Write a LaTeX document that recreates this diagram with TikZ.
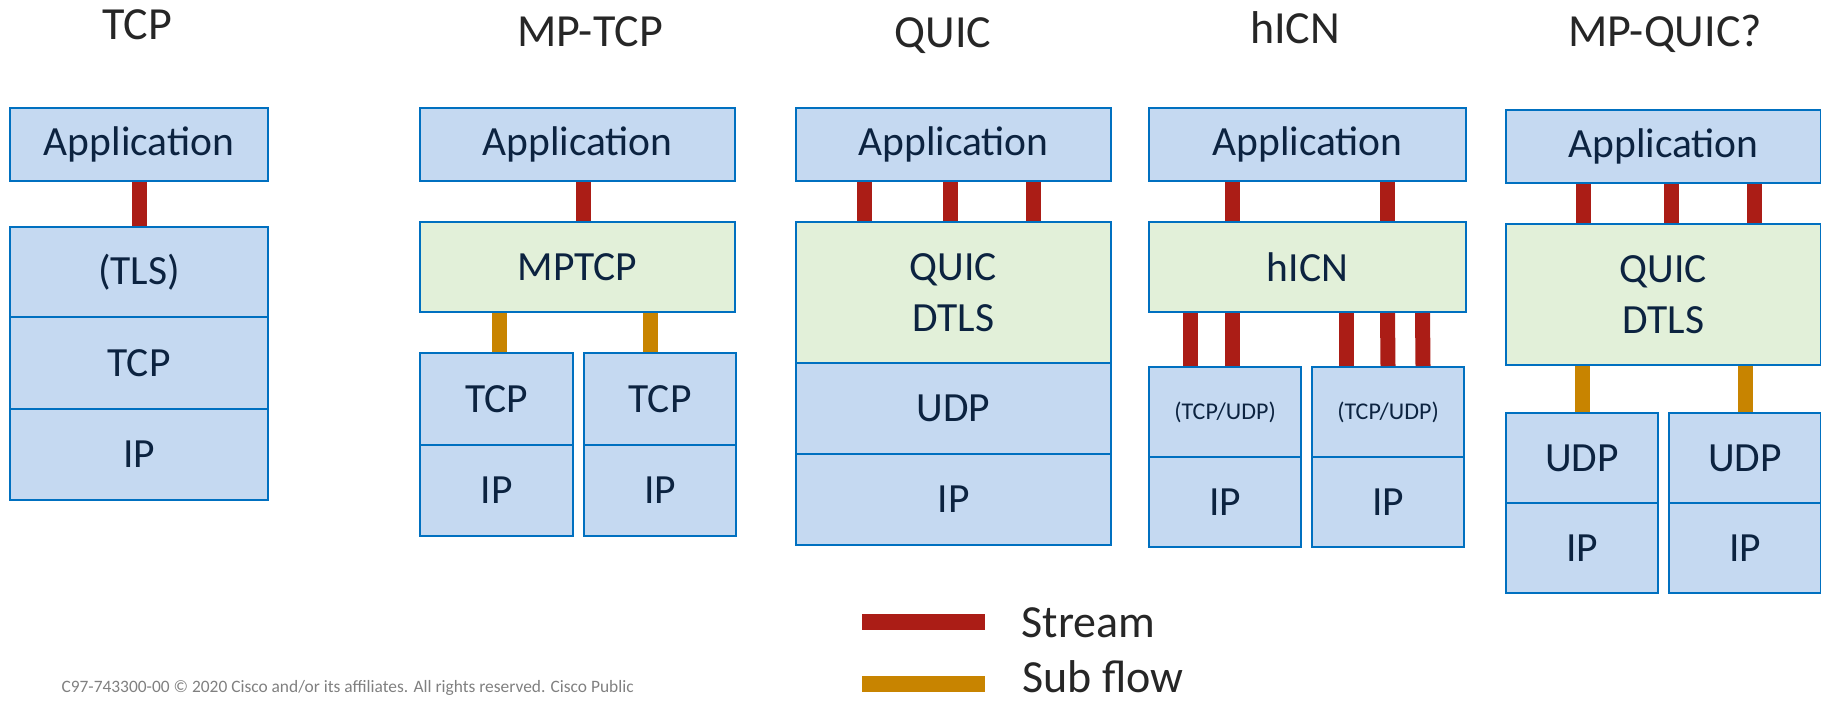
\documentclass[tikz,border=0pt]{standalone}
\usepackage{fontspec}
\setmainfont{Carlito}

\definecolor{layblue}{HTML}{C5D9F1}
\definecolor{laygreen}{HTML}{E2F0D9}
\definecolor{layedge}{HTML}{0070C0}
\definecolor{laytext}{HTML}{0C2340}
\definecolor{streamred}{HTML}{AB1D16}
\definecolor{subflowor}{HTML}{C88400}
\definecolor{titlegray}{HTML}{262626}

\begin{document}
\begin{tikzpicture}[x=1pt, y=-1pt,
    layer/.style={draw=layedge, line width=2pt, fill=layblue, text=laytext, inner sep=0pt,
      anchor=north, align=center, font=\fontsize{41.5}{51}\selectfont},
    proto/.style={layer, fill=laygreen},
    small/.style={font=\fontsize{24}{28}\selectfont},
    title/.style={anchor=base, text=titlegray, font=\fontsize{46}{50}\selectfont},
    stream/.style={draw=streamred, line width=15pt},
    subflow/.style={draw=subflowor, line width=15pt}]
      \useasboundingbox (0,0) rectangle (1821,701);
      \clip (0,0) rectangle (1821,701);
      % TCP
      \node [title] (ttcp) at (137,40) {TCP};
      \node [layer, minimum width=258, minimum height=73] (tcpapp) at (139,107) {Application};
      \node [layer, minimum width=258, minimum height=90] (tcptls) at (139,226) {(TLS)};
      \node [layer, minimum width=258, minimum height=92] (tcptcp) at (139,316) {TCP};
      \node [layer, minimum width=258, minimum height=91] (tcpip) at (139,408) {IP};
      \draw [stream] (tcpapp.south) -- (tcptls.north);
      % MP-TCP
      \node [title] (tmptcp) at (590,47) {MP-TCP};
      \node [layer, minimum width=315, minimum height=73] (mpapp) at (577.5,107) {Application};
      \node [proto, minimum width=315, minimum height=90] (mptcp) at (577.5,221) {MPTCP};
      \node [layer, minimum width=153, minimum height=92] (mptcp1) at (496.5,352) {TCP};
      \node [layer, minimum width=153, minimum height=91] (mpip1) at (496.5,444) {IP};
      \node [layer, minimum width=152, minimum height=92] (mptcp2) at (660,352) {TCP};
      \node [layer, minimum width=152, minimum height=91] (mpip2) at (660,444) {IP};
      \draw [stream] ([xshift=5.5]mpapp.south) -- ([xshift=5.5]mptcp.north);
      \draw [subflow] ([xshift=-78]mptcp.south) -- ([xshift=3]mptcp1.north);
      \draw [subflow] ([xshift=72.5]mptcp.south) -- ([xshift=-10]mptcp2.north);
      % QUIC
      \node [title] (tquic) at (943,48) {QUIC};
      \node [layer, minimum width=315, minimum height=73] (qapp) at (953.5,107) {Application};
      \node [proto, minimum width=315, minimum height=141] (quic) at (953.5,221) {QUIC\\DTLS};
      \node [layer, minimum width=315, minimum height=91] (qudp) at (953.5,362) {UDP};
      \node [layer, minimum width=315, minimum height=91] (qip) at (953.5,453) {IP};
      \foreach \dx in {-89.5,-3,80}
        \draw [stream] ([xshift=\dx]qapp.south) -- ([xshift=\dx]quic.north);
      % hICN
      \node [title] (thicn) at (1295,44) {hICN};
      \node [layer, minimum width=317, minimum height=73] (happ) at (1307.5,107) {Application};
      \node [proto, minimum width=317, minimum height=90] (hicn) at (1307.5,221) {hICN};
      \node [layer, small, minimum width=152, minimum height=90] (hts1) at (1225,366) {(TCP/UDP)};
      \node [layer, minimum width=152, minimum height=90] (hip1) at (1225,456) {IP};
      \node [layer, small, minimum width=152, minimum height=90] (hts2) at (1388,366) {(TCP/UDP)};
      \node [layer, minimum width=152, minimum height=90] (hip2) at (1388,456) {IP};
      \foreach \dx in {-75,80}
        \draw [stream] ([xshift=\dx]happ.south) -- ([xshift=\dx]hicn.north);
      \foreach \a/\b in {-117.5/-35,-75/7.5}
        \draw [stream] ([xshift=\a]hicn.south) -- ([xshift=\b]hts1.north);
      \foreach \a/\b in {39/-41.5,80/0,115/35}
        \draw [stream] ([xshift=\a]hicn.south) -- ([xshift=\b]hts2.north);
      % MP-QUIC?
      \node [title] (tmpquic) at (1665,47) {MP-QUIC?};
      \node [layer, minimum width=315, minimum height=73] (mqapp) at (1663.5,109) {Application};
      \node [proto, minimum width=315, minimum height=141] (mquic) at (1663.5,223) {QUIC\\DTLS};
      \node [layer, minimum width=152, minimum height=90] (mqudp1) at (1582,412) {UDP};
      \node [layer, minimum width=152, minimum height=90] (mqip1) at (1582,502) {IP};
      \node [layer, minimum width=152, minimum height=90] (mqudp2) at (1745,412) {UDP};
      \node [layer, minimum width=152, minimum height=90] (mqip2) at (1745,502) {IP};
      \foreach \dx in {-80.5,7.5,90.5}
        \draw [stream] ([xshift=\dx]mqapp.south) -- ([xshift=\dx]mquic.north);
      \draw [subflow] (mqudp1.north |- mquic.south) -- (mqudp1.north);
      \draw [subflow] (mqudp2.north |- mquic.south) -- (mqudp2.north);
      % legend
      \node [fill=streamred, inner sep=0pt, minimum width=123, minimum height=16] (kstream) at (923.5,622) {};
      \node [anchor=base west, text=titlegray, font=\fontsize{46}{50}\selectfont] (lstream) at (1018,637.5) {Stream};
      \node [fill=subflowor, inner sep=0pt, minimum width=123, minimum height=16] (ksub) at (923.5,684) {};
      \node [anchor=base west, text=titlegray, font=\fontsize{46}{50}\selectfont, inner sep=0pt] (lsub) at (1022,692) {Sub flow};
      \node [anchor=base west, text=gray, font=\fontsize{17.4}{19}\selectfont] (copy) at (58,692)
        {C97-743300-00 © 2020 Cisco and/or its affiliates. All rights reserved. Cisco Public};
\end{tikzpicture}
\end{document}
